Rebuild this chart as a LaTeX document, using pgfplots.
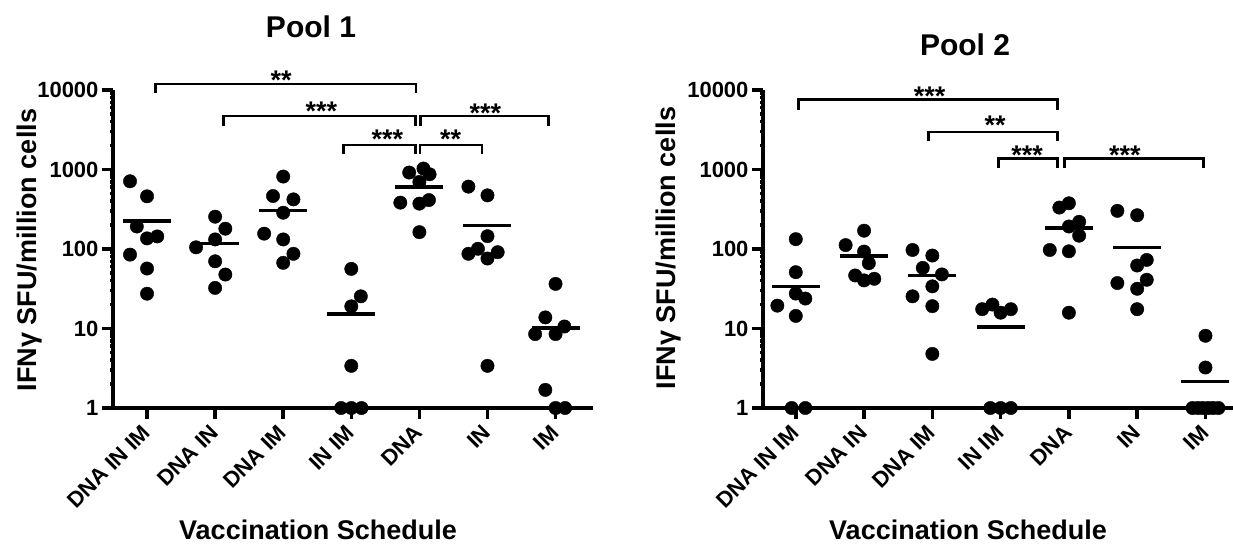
\documentclass[border=0pt]{standalone}
\usepackage{pgfplots}
\usepackage{pgfplotstable}
\pgfplotsset{compat=1.18}
\usepackage{fontspec}
\setmainfont{Liberation Sans}

\pgfplotstableread{
x y
-0.25 711
0 460
-0.15 192
0 136
0.15 144
-0.25 85
0 56.8
0 27.4
1 255
1.15 180
1 132
0.72 105
1 70
1.15 47.7
1 32.4
2 815
1.85 464
2.15 421
2 286
1.72 156
2 132
2.15 87
2 67
3 56.2
3.14 25.4
3 19.0
3 3.39
2.85 1
3 1
3.15 1
3.85 916
4.06 1028
4.15 871
4 697
3.72 383
4 372
4.14 413
4 163
4.72 609
5 473
5 145
4.86 100.6
4.72 87
5 75.9
5.15 91.2
5 3.39
6 36.4
5.85 13.8
5.7 8.51
6 8.51
6.13 10.6
5.85 1.69
6 1
6.14 1
}\poolAdata

\pgfplotstableread{
x y
0 226.5
1 117.4
2 303.5
3 15.3
4 605
5 198
6 10.2
}\poolAmean

\pgfplotstableread{
x y
0 133
0 51.1
0 27.5
0.14 23.8
-0.27 19.4
0 14.4
-0.06 1
0.14 1
1 170
0.73 112
1 92.8
1.07 66.2
0.87 46.5
1 40.3
1.15 42.2
1.71 97.2
2 82.7
1.86 57.9
2.14 47.9
2 33.9
1.71 25.4
2 19.1
2 4.79
2.73 17.5
2.88 20
3 15.8
3.15 17.5
2.85 1
3 1
3.15 1
3.86 332
4 376
4.15 220
4 192
4.15 147
3.72 97.2
4 93.6
4 15.8
4.71 302
5 266
5.14 72.9
5 62
5.14 41
4.71 37.3
5 31.6
5 17.5
6 8.1
6 3.23
5.81 1
5.89 1
5.96 1
6.04 1
6.11 1
6.19 1
}\poolBdata

\pgfplotstableread{
x y
0 33.9
1 81.4
2 46.1
3 10.5
4 184.2
5 103.8
6 2.17
}\poolBmean

\newcommand\lbl{\fontsize{27}{30}\selectfont\bfseries}
\newcommand\ttl{\fontsize{30}{34}\selectfont\bfseries}
\newcommand\stars{\fontsize{27}{30}\selectfont\bfseries}
\newcommand\tkl{\fontsize{22}{25}\selectfont\bfseries}

\begin{document}
\begin{tikzpicture}
\useasboundingbox (0pt,0pt) rectangle (1233pt,550pt);

\begin{axis}[
  at={(113pt,142pt)}, anchor=south west,
  scale only axis, width=480pt, height=318pt,
  ymode=log, ymin=1, ymax=10000, xmin=-0.5, xmax=6.55,
  axis lines=left, axis line style={line width=3.5pt, -},
  xtick={0,1,2,3,4,5,6},
  xticklabels={DNA IN IM, DNA IN, DNA IM, IN IM, DNA, IN, IM},
  ytick={1,10,100,1000,10000}, yticklabels={1,10,100,1000,10000},
  minor tick num=0,
  tick style={line width=3.5pt, black},
  major tick length=11pt,
  tick align=outside,
  yticklabel style={font=\tkl},
  xticklabel style={font=\tkl, rotate=45, anchor=east, inner sep=1pt},
  xticklabel shift=9pt,
  clip=false,
]
  \addplot[only marks, mark=*, mark size=6.7pt, black] table {\poolAdata};
  \addplot[only marks, mark=-, mark size=24pt, mark options={line width=3.5pt}, black] table {\poolAmean};
  \draw[line width=2.8pt] (axis cs:0.13,9087) |- (axis cs:3.95,11890) -- (axis cs:3.95,9087);
  \draw[line width=2.8pt] (axis cs:1.12,3556) |- (axis cs:3.94,4710) -- (axis cs:3.94,3556);
  \draw[line width=2.8pt] (axis cs:2.89,1567) |- (axis cs:3.94,2033) -- (axis cs:3.94,1567);
  \draw[line width=2.8pt] (axis cs:4.02,3556) |- (axis cs:5.90,4710) -- (axis cs:5.90,3556);
  \draw[line width=2.8pt] (axis cs:4.01,1567) |- (axis cs:4.92,2033) -- (axis cs:4.92,1567);
  \node[anchor=base, inner sep=0pt, font=\stars] at (axis cs:1.97,10150) {**};
  \node[anchor=base, inner sep=0pt, font=\stars] at (axis cs:2.56,4132) {***};
  \node[anchor=base, inner sep=0pt, font=\stars] at (axis cs:3.53,1837) {***};
  \node[anchor=base, inner sep=0pt, font=\stars] at (axis cs:4.97,3957) {***};
  \node[anchor=base, inner sep=0pt, font=\stars] at (axis cs:4.46,1837) {**};
\end{axis}

\begin{axis}[
  at={(763pt,142pt)}, anchor=south west,
  scale only axis, width=480pt, height=318pt,
  ymode=log, ymin=1, ymax=10000, xmin=-0.48, xmax=6.55,
  axis lines=left, axis line style={line width=3.5pt, -},
  xtick={0,1,2,3,4,5,6},
  xticklabels={DNA IN IM, DNA IN, DNA IM, IN IM, DNA, IN, IM},
  ytick={1,10,100,1000,10000}, yticklabels={1,10,100,1000,10000},
  minor tick num=0,
  tick style={line width=3.5pt, black},
  major tick length=11pt,
  tick align=outside,
  yticklabel style={font=\tkl},
  xticklabel style={font=\tkl, rotate=45, anchor=east, inner sep=1pt},
  xticklabel shift=9pt,
  clip=false,
]
  \addplot[only marks, mark=*, mark size=6.7pt, black] table {\poolBdata};
  \addplot[only marks, mark=-, mark size=24pt, mark options={line width=3.5pt}, black] table {\poolBmean};
  \draw[line width=2.8pt] (axis cs:0.04,5623) |- (axis cs:3.83,7655) -- (axis cs:3.83,5623);
  \draw[line width=2.8pt] (axis cs:1.94,2265) |- (axis cs:3.83,2958) -- (axis cs:3.83,2265);
  \draw[line width=2.8pt] (axis cs:2.97,1050) |- (axis cs:3.83,1373) -- (axis cs:3.83,1050);
  \draw[line width=2.8pt] (axis cs:3.93,1050) |- (axis cs:5.97,1373) -- (axis cs:5.97,1050);
  \node[anchor=base, inner sep=0pt, font=\stars] at (axis cs:1.96,6476) {***};
  \node[anchor=base, inner sep=0pt, font=\stars] at (axis cs:2.92,2730) {**};
  \node[anchor=base, inner sep=0pt, font=\stars] at (axis cs:3.39,1172) {***};
  \node[anchor=base, inner sep=0pt, font=\stars] at (axis cs:4.82,1172) {***};
\end{axis}

\node[font=\ttl] at (311pt,523pt) {Pool 1};
\node[font=\ttl] at (965pt,505pt) {Pool 2};
\node[font=\lbl, rotate=90] at (30pt,300pt) {IFNγ SFU/million cells};
\node[font=\lbl, rotate=90] at (669pt,302pt) {IFNγ SFU/million cells};
\node[font=\lbl] at (318pt,20pt) {Vaccination Schedule};
\node[font=\lbl] at (968pt,20pt) {Vaccination Schedule};
\end{tikzpicture}
\end{document}
